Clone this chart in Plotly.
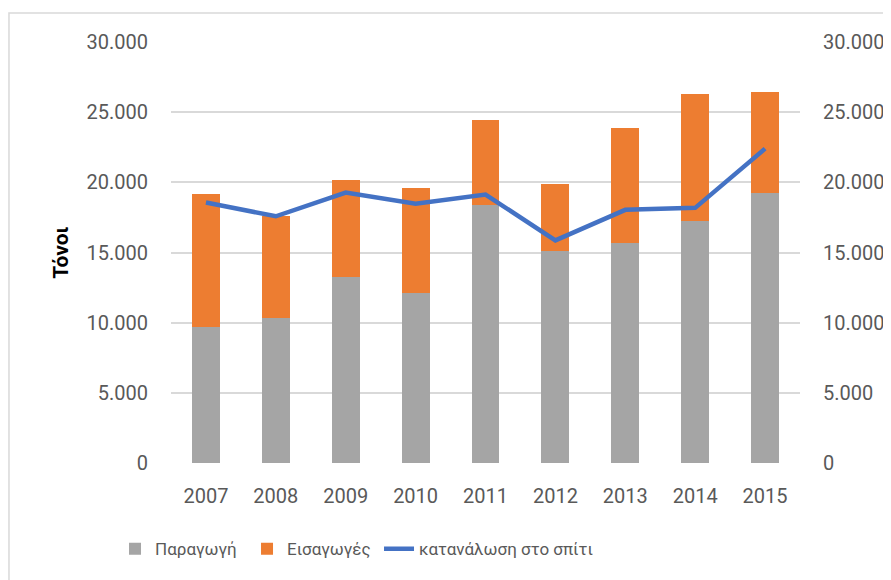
import plotly.graph_objects as go

# values (tonnes)
years = ["2007", "2008", "2009", "2010", "2011", "2012", "2013", "2014", "2015"]
production = [9700, 10300, 13250, 12100, 18380, 15100, 15670, 17240, 19230]
imports = [9500, 7300, 6950, 7500, 6070, 4800, 8210, 9060, 7210]
home_consumption = [18560, 17580, 19270, 18470, 19130, 15860, 18040, 18180, 22400]

y_ticks = [0, 5000, 10000, 15000, 20000, 25000, 30000]
y_ticktext = ["0", "5.000", "10.000", "15.000", "20.000", "25.000", "30.000"]

GRAY = "#A5A5A5"
ORANGE = "#ED7D31"
BLUE = "#4472C4"
INK = "#595959"
GRID = "#D9D9D9"
FONT = "Roboto, sans-serif"

fig = go.Figure()
fig.add_trace(go.Bar(x=years, y=production, name="Παραγωγή", legendwidth=87,
                     marker=dict(color=GRAY, line=dict(width=0))))
fig.add_trace(go.Bar(x=years, y=imports, name="Εισαγωγές", legendwidth=87,
                     marker=dict(color=ORANGE, line=dict(width=0))))
fig.add_trace(go.Scatter(x=years, y=home_consumption, name="κατανάλωση στο σπίτι",
                         mode="lines", yaxis="y2",
                         line=dict(color=BLUE, width=4.5)))

# page sits 8px in from the window edge, so the figure is 8px smaller
fig.update_layout(
    width=883, height=572, template=None,
    paper_bgcolor="white", plot_bgcolor="white",
    barmode="stack", bargap=0.6,
    margin=dict(l=163, r=91, t=34, b=116.5, autoexpand=False),
    font=dict(family=FONT, color=INK, size=20),
    xaxis=dict(type="category", showgrid=False, zeroline=False, showline=False,
               ticks="", ticklabelstandoff=19, tickfont=dict(size=20, color=INK)),
    yaxis=dict(range=[0, 30000], tickvals=y_ticks, ticktext=y_ticktext,
               showgrid=True, gridcolor=GRID, gridwidth=1.5, zeroline=False,
               showline=False, ticks="", ticklabelstandoff=22,
               tickfont=dict(size=20, color=INK),
               title=dict(text="<b>Τόνοι</b>", standoff=12,
                          font=dict(size=21, color="#000000"))),
    yaxis2=dict(range=[0, 30000], tickvals=y_ticks, ticktext=y_ticktext,
                overlaying="y", side="right", showgrid=False, zeroline=False,
                showline=False, ticks="", ticklabelstandoff=22,
                tickfont=dict(size=20, color=INK)),
    legend=dict(orientation="h", x=-0.089, xanchor="left", y=-0.205, yanchor="middle",
                font=dict(size=17, color=INK), bgcolor="rgba(0,0,0,0)",
                traceorder="normal"),
    shapes=[dict(type="rect", xref="paper", yref="paper",
                 x0=-0.2576, x1=1.3, y0=-0.35, y1=1.0688,
                 line=dict(color=GRID, width=1.5), fillcolor="rgba(0,0,0,0)",
                 layer="below")],
)

fig.write_html("out.html")
